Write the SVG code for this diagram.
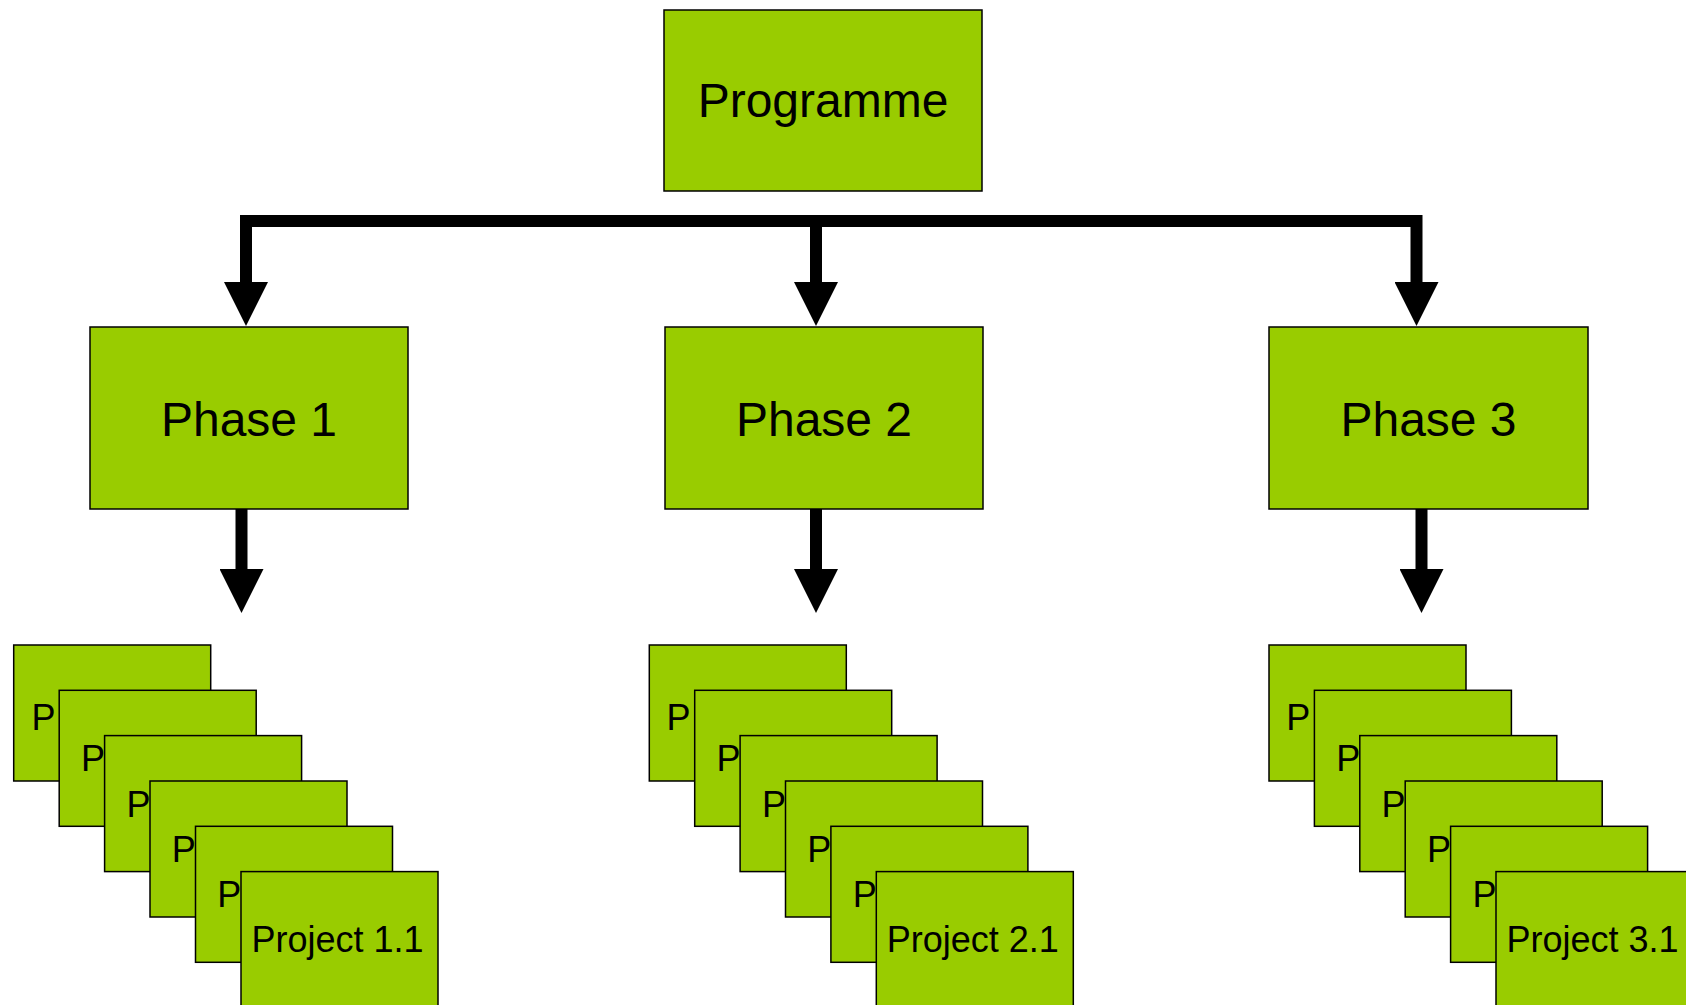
<svg xmlns="http://www.w3.org/2000/svg" width="1686" height="1005" viewBox="0 0 1686 1005">
<style>
.box{fill:#99CC00;stroke:#000;stroke-width:1.5}
.big{font-family:"Liberation Sans",Arial,sans-serif;font-size:48px;fill:#000;text-anchor:middle}
.sm{font-family:"Liberation Sans",Arial,sans-serif;font-size:36px;fill:#000}
.mid{text-anchor:middle}
.conn{fill:none;stroke:#000;stroke-width:12;stroke-linejoin:miter;stroke-linecap:butt}
</style>
<defs>
<marker id="ah" markerUnits="userSpaceOnUse" markerWidth="44" markerHeight="44" viewBox="0 0 44 44" refX="0" refY="22" orient="auto">
<path d="M0,0 L44,22 L0,44 z" fill="#000"/>
</marker>
</defs>
<rect width="1686" height="1005" fill="#fff"/>
<g id="connectors">
<path class="conn" d="M246,282 V221 H1416.5 V282" marker-end="url(#ah)"/>
<path class="conn" d="M246,221 V282" marker-end="url(#ah)"/>
<path class="conn" d="M816,221 V282" marker-end="url(#ah)"/>
<path class="conn" d="M241.5,509 V569" marker-end="url(#ah)"/>
<path class="conn" d="M816,509 V569" marker-end="url(#ah)"/>
<path class="conn" d="M1421.5,509 V569" marker-end="url(#ah)"/>
</g>
<g id="programme"><rect class="box" x="664" y="10" width="318" height="181"/><text class="big" x="823" y="117">Programme</text></g>
<g id="phase1"><rect class="box" x="90" y="327" width="318" height="182"/><text class="big" x="249" y="436">Phase 1</text></g>
<g id="phase2"><rect class="box" x="665" y="327" width="318" height="182"/><text class="big" x="824" y="436">Phase 2</text></g>
<g id="phase3"><rect class="box" x="1269" y="327" width="319" height="182"/><text class="big" x="1428.5" y="436">Phase 3</text></g>

<g id="p1a"><rect class="box" x="13.7" y="645" width="197" height="136"/><text class="sm" x="31.5" y="730">P</text></g>
<g id="p1b"><rect class="box" x="59.2" y="690.3" width="197" height="136"/><text class="sm" x="81" y="771.3">P</text></g>
<g id="p1c"><rect class="box" x="104.6" y="735.6" width="197" height="136"/><text class="sm" x="126.4" y="816.6">P</text></g>
<g id="p1d"><rect class="box" x="150" y="781" width="197" height="136"/><text class="sm" x="171.8" y="862">P</text></g>
<g id="p1e"><rect class="box" x="195.5" y="826.3" width="197" height="136"/><text class="sm" x="217.3" y="907.3">P</text></g>
<g id="p1f"><rect class="box" x="241" y="871.6" width="197" height="136"/><text class="sm mid" x="337.5" y="951.7">Project 1.1</text></g>

<g id="p2a"><rect class="box" x="649.3" y="645" width="197" height="136"/><text class="sm" x="666.5" y="730">P</text></g>
<g id="p2b"><rect class="box" x="694.7" y="690.3" width="197" height="136"/><text class="sm" x="716.5" y="771.3">P</text></g>
<g id="p2c"><rect class="box" x="740.1" y="735.6" width="197" height="136"/><text class="sm" x="761.9" y="816.6">P</text></g>
<g id="p2d"><rect class="box" x="785.5" y="781" width="197" height="136"/><text class="sm" x="807.3" y="862">P</text></g>
<g id="p2e"><rect class="box" x="830.9" y="826.3" width="197" height="136"/><text class="sm" x="852.7" y="907.3">P</text></g>
<g id="p2f"><rect class="box" x="876.3" y="871.6" width="197" height="136"/><text class="sm mid" x="972.8" y="951.7">Project 2.1</text></g>

<g id="p3a"><rect class="box" x="1269" y="645" width="197" height="136"/><text class="sm" x="1286.3" y="730">P</text></g>
<g id="p3b"><rect class="box" x="1314.4" y="690.3" width="197" height="136"/><text class="sm" x="1336.2" y="771.3">P</text></g>
<g id="p3c"><rect class="box" x="1359.8" y="735.6" width="197" height="136"/><text class="sm" x="1381.6" y="816.6">P</text></g>
<g id="p3d"><rect class="box" x="1405.2" y="781" width="197" height="136"/><text class="sm" x="1427" y="862">P</text></g>
<g id="p3e"><rect class="box" x="1450.6" y="826.3" width="197" height="136"/><text class="sm" x="1472.4" y="907.3">P</text></g>
<g id="p3f"><rect class="box" x="1496" y="871.6" width="197" height="136"/><text class="sm mid" x="1592.5" y="951.7">Project 3.1</text></g>
</svg>
